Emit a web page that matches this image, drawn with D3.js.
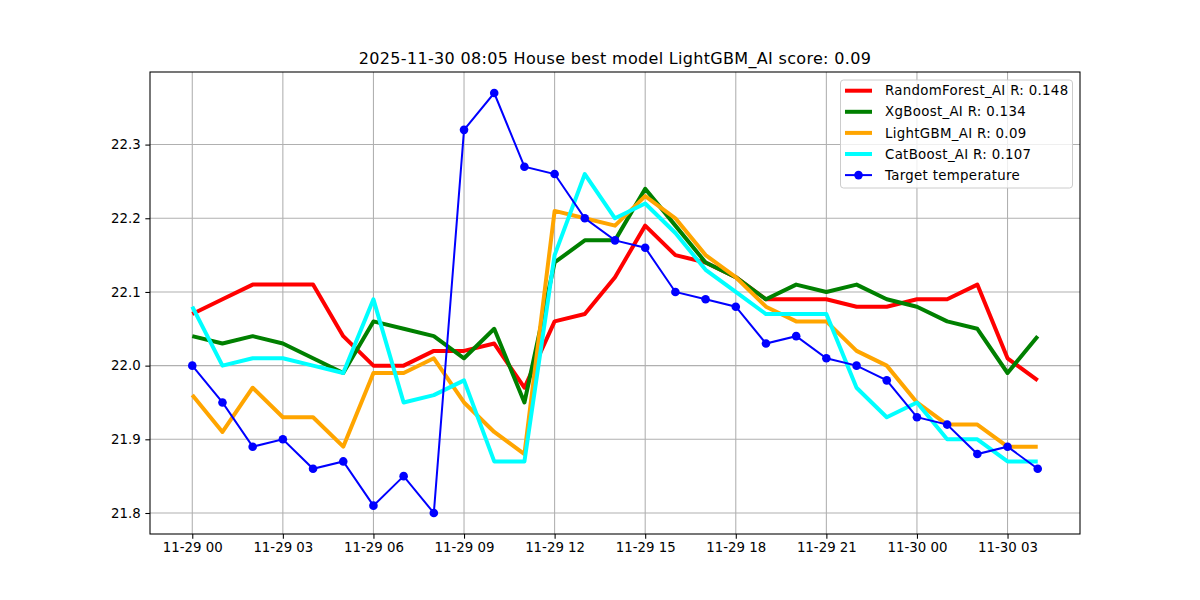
<!DOCTYPE html>
<html>
<head>
<meta charset="utf-8">
<script src="https://cdn.jsdelivr.net/npm/d3@7"></script>
<style>
  body { margin: 0; background: #fff; }
  svg text { font-family: "DejaVu Sans", sans-serif; }
</style>
</head>
<body>
<div id="chart"></div>
<script>
// hourly timestamps
var times = [
  "2025-11-29 00:00", "2025-11-29 01:00", "2025-11-29 02:00", "2025-11-29 03:00",
  "2025-11-29 04:00", "2025-11-29 05:00", "2025-11-29 06:00", "2025-11-29 07:00",
  "2025-11-29 08:00", "2025-11-29 09:00", "2025-11-29 10:00", "2025-11-29 11:00",
  "2025-11-29 12:00", "2025-11-29 13:00", "2025-11-29 14:00", "2025-11-29 15:00",
  "2025-11-29 16:00", "2025-11-29 17:00", "2025-11-29 18:00", "2025-11-29 19:00",
  "2025-11-29 20:00", "2025-11-29 21:00", "2025-11-29 22:00", "2025-11-29 23:00",
  "2025-11-30 00:00", "2025-11-30 01:00", "2025-11-30 02:00", "2025-11-30 03:00",
  "2025-11-30 04:00"
];

var randomForest = [22.07, 22.09, 22.11, 22.11, 22.11, 22.04, 22.00, 22.00, 22.02, 22.02,
  22.03, 21.97, 22.06, 22.07, 22.12, 22.19, 22.15, 22.14, 22.12, 22.09,
  22.09, 22.09, 22.08, 22.08, 22.09, 22.09, 22.11, 22.01, 21.98];

var xgBoost = [22.04, 22.03, 22.04, 22.03, 22.01, 21.99, 22.06, 22.05, 22.04, 22.01,
  22.05, 21.95, 22.14, 22.17, 22.17, 22.24, 22.19, 22.14, 22.12, 22.09,
  22.11, 22.10, 22.11, 22.09, 22.08, 22.06, 22.05, 21.99, 22.04];

var lightGBM = [21.96, 21.91, 21.97, 21.93, 21.93, 21.89, 21.99, 21.99, 22.01, 21.95,
  21.91, 21.88, 22.21, 22.20, 22.19, 22.23, 22.20, 22.15, 22.12, 22.08,
  22.06, 22.06, 22.02, 22.00, 21.95, 21.92, 21.92, 21.89, 21.89];

var catBoost = [22.08, 22.00, 22.01, 22.01, 22.00, 21.99, 22.09, 21.95, 21.96, 21.98,
  21.87, 21.87, 22.15, 22.26, 22.20, 22.22, 22.18, 22.13, 22.10, 22.07,
  22.07, 22.07, 21.97, 21.93, 21.95, 21.90, 21.90, 21.87, 21.87];

var target = [22.00, 21.95, 21.89, 21.90, 21.86, 21.87, 21.81, 21.85, 21.80, 22.32,
  22.37, 22.27, 22.26, 22.20, 22.17, 22.16, 22.10, 22.09, 22.08, 22.03,
  22.04, 22.01, 22.00, 21.98, 21.93, 21.92, 21.88, 21.89, 21.86];

var yTicks = [21.8, 21.9, 22.0, 22.1, 22.2, 22.3];
var xTickTimes = ["2025-11-29 00:00", "2025-11-29 03:00", "2025-11-29 06:00", "2025-11-29 09:00",
  "2025-11-29 12:00", "2025-11-29 15:00", "2025-11-29 18:00", "2025-11-29 21:00",
  "2025-11-30 00:00", "2025-11-30 03:00"];

var titleText = "2025-11-30 08:05 House best model LightGBM_AI score: 0.09";

var series = [
  { name: "RandomForest_AI R: 0.148", values: randomForest, color: "red" },
  { name: "XgBoost_AI R: 0.134", values: xgBoost, color: "green" },
  { name: "LightGBM_AI R: 0.09", values: lightGBM, color: "orange" },
  { name: "CatBoost_AI R: 0.107", values: catBoost, color: "cyan" }
];

var svgWidth = 1200, svgHeight = 600;
var plotLeft = 150, plotRight = 1080, plotTop = 72, plotBottom = 534;

var parse = d3.utcParse("%Y-%m-%d %H:%M");
var dates = times.map(parse);

var svg = d3.select("#chart").append("svg")
  .attr("width", svgWidth)
  .attr("height", svgHeight);

// matplotlib style 5% margins
var tMin = d3.min(dates), tMax = d3.max(dates);
var tPad = (tMax - tMin) * 0.05;
var allVals = [].concat(randomForest, xgBoost, lightGBM, catBoost, target);
var vMin = d3.min(allVals), vMax = d3.max(allVals);
var vPad = (vMax - vMin) * 0.05;

var x = d3.scaleUtc()
  .domain([new Date(+tMin - tPad), new Date(+tMax + tPad)])
  .range([plotLeft, plotRight]);
var y = d3.scaleLinear()
  .domain([vMin - vPad, vMax + vPad])
  .range([plotBottom, plotTop]);

var xTicks = xTickTimes.map(parse);

// grid
svg.append("g").selectAll("line")
  .data(xTicks).join("line")
  .attr("x1", d => x(d)).attr("x2", d => x(d))
  .attr("y1", plotTop).attr("y2", plotBottom)
  .attr("stroke", "#b0b0b0").attr("stroke-width", 1.07);
svg.append("g").selectAll("line")
  .data(yTicks).join("line")
  .attr("x1", plotLeft).attr("x2", plotRight)
  .attr("y1", d => y(d)).attr("y2", d => y(d))
  .attr("stroke", "#b0b0b0").attr("stroke-width", 1.07);

var line = d3.line()
  .x((d, i) => x(dates[i]))
  .y(d => y(d));

var plot = svg.append("g");
series.forEach(function(s) {
  plot.append("path")
    .attr("d", line(s.values))
    .attr("fill", "none")
    .attr("stroke", s.color)
    .attr("stroke-width", 4)
    .attr("stroke-linejoin", "round");
});

plot.append("path")
  .attr("d", line(target))
  .attr("fill", "none")
  .attr("stroke", "blue")
  .attr("stroke-width", 2);
plot.selectAll("circle")
  .data(target).join("circle")
  .attr("cx", (d, i) => x(dates[i]))
  .attr("cy", d => y(d))
  .attr("r", 4.3)
  .attr("fill", "blue");

// axes
var xAxis = d3.axisBottom(x)
  .tickValues(xTicks)
  .tickFormat(d3.utcFormat("%m-%d %H"))
  .tickSize(4.67).tickPadding(4.2);
var yAxis = d3.axisLeft(y)
  .tickValues(yTicks)
  .tickFormat(d3.format(".1f"))
  .tickSize(4.67).tickPadding(4.67);

var gx = svg.append("g").attr("transform", "translate(0," + plotBottom + ")").call(xAxis);
var gy = svg.append("g").attr("transform", "translate(" + plotLeft + ",0)").call(yAxis);
[gx, gy].forEach(function(g) {
  g.select(".domain").remove();
  g.selectAll(".tick line").attr("stroke", "#000").attr("stroke-width", 1.07);
  g.selectAll(".tick text")
    .attr("fill", "#000")
    .style("font-size", "13.33px")
    .style("font-family", "DejaVu Sans");
});

// frame
svg.append("rect")
  .attr("x", plotLeft).attr("y", plotTop)
  .attr("width", plotRight - plotLeft).attr("height", plotBottom - plotTop)
  .attr("fill", "none").attr("stroke", "#000").attr("stroke-width", 1.07);

// title
svg.append("text")
  .attr("x", (plotLeft + plotRight) / 2)
  .attr("y", 64)
  .attr("text-anchor", "middle")
  .style("font-size", "16px")
  .style("letter-spacing", "0.32px")
  .text(titleText);

// legend
var legend = svg.append("g");
legend.append("rect")
  .attr("x", 840.5).attr("y", 80)
  .attr("width", 232).attr("height", 108)
  .attr("rx", 3)
  .attr("fill", "white").attr("fill-opacity", 0.8)
  .attr("stroke", "#cccccc").attr("stroke-width", 1);

var legItems = series.concat([{ name: "Target temperature", color: "blue", marker: true }]);
legItems.forEach(function(s, i) {
  var cy = 90.7 + i * 21.1;
  legend.append("line")
    .attr("x1", 845).attr("x2", 872)
    .attr("y1", cy).attr("y2", cy)
    .attr("stroke", s.color)
    .attr("stroke-width", s.marker ? 2 : 4);
  if (s.marker) {
    legend.append("circle")
      .attr("cx", 858.5).attr("cy", cy).attr("r", 4.3).attr("fill", "blue");
  }
  legend.append("text")
    .attr("x", 885).attr("y", cy)
    .attr("dy", "0.35em")
    .style("font-size", "13.33px")
    .style("letter-spacing", "0.32px")
    .attr("fill", "#000")
    .text(s.name);
});
</script>
</body>
</html>
